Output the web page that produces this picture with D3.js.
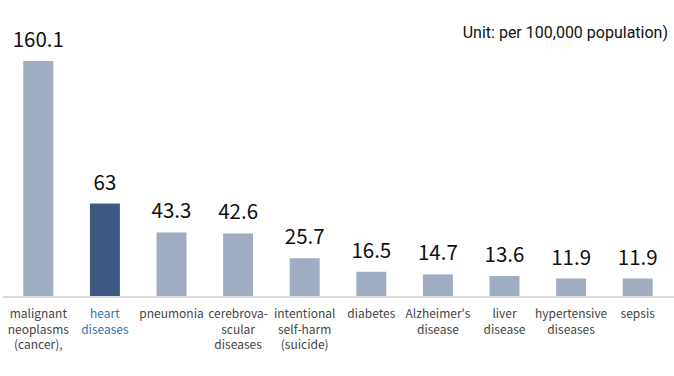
<!DOCTYPE html>
<html><head><meta charset="utf-8">
<script src="https://cdn.jsdelivr.net/npm/d3@7/dist/d3.min.js"></script>
<style>body{margin:0;background:#fff}svg{display:block}</style>
</head><body><svg id="c" width="674" height="376"></svg>
<script>
const categories = ["malignant neoplasms (cancer),", "heart diseases", "pneumonia", "cerebrovascular diseases", "intentional self-harm (suicide)", "diabetes", "Alzheimer's disease", "liver disease", "hypertensive diseases", "sepsis"];
const labelLines = [["malignant","neoplasms","(cancer),"],["heart","diseases"],["pneumonia"],["cerebrova-","scular","diseases"],["intentional","self-harm","(suicide)"],["diabetes"],["Alzheimer's","disease"],["liver","disease"],["hypertensive","diseases"],["sepsis"]];
const values = [160.1, 63, 43.3, 42.6, 25.7, 16.5, 14.7, 13.6, 11.9, 11.9];
const valueLabels = ["160.1","63","43.3","42.6","25.7","16.5","14.7","13.6","11.9","11.9"];
const highlight = "heart diseases";
const unitText = "Unit: per 100,000 population)";

const svg = d3.select("#c");
const baseY = 296;
const x = d3.scaleBand().domain(categories).range([5, 671]).paddingInner(0.55).paddingOuter(0.275);
const y = d3.scaleLinear().domain([0, 160.1]).range([baseY, 61]);

svg.append("line").attr("x1",3).attr("x2",674).attr("y1",297).attr("y2",297)
  .attr("stroke","#cfcfcf").attr("stroke-width",1.5);

svg.selectAll("rect.bar").data(categories).join("rect").attr("class","bar")
  .attr("x", d => x(d)).attr("width", x.bandwidth())
  .attr("y", (d,i) => y(values[i])).attr("height", (d,i) => baseY - y(values[i]))
  .attr("fill", d => d === highlight ? "#3f5882" : "#a0acc2");

svg.selectAll("text.val").data(categories).join("text").attr("class","val")
  .attr("x", d => x(d) + x.bandwidth()/2)
  .attr("y", (d,i) => y(values[i]) - 14)
  .attr("text-anchor","middle")
  .attr("font-family","'Noto Sans CJK KR','Noto Sans',sans-serif")
  .attr("font-size",20.5).attr("fill","#111")
  .text((d,i) => valueLabels[i]);

const lab = svg.selectAll("text.cat").data(categories).join("text").attr("class","cat")
  .attr("text-anchor","middle")
  .attr("font-family","'Noto Sans CJK KR','Noto Sans',sans-serif")
  .attr("font-size",12).attr("fill", d => d === highlight ? "#3a72b8" : "#444");
lab.each(function(d,i){
  const t = d3.select(this);
  labelLines[i].forEach((l,j) => {
    t.append("tspan").attr("x", x(d) + x.bandwidth()/2).attr("y", 318 + j*15.5).text(l);
  });
});

svg.append("text").attr("x",668).attr("y",38).attr("text-anchor","end")
  .attr("font-family","Roboto,'Noto Sans',sans-serif").attr("font-size",16).attr("fill","#111")
  .text(unitText);
</script></body></html>
